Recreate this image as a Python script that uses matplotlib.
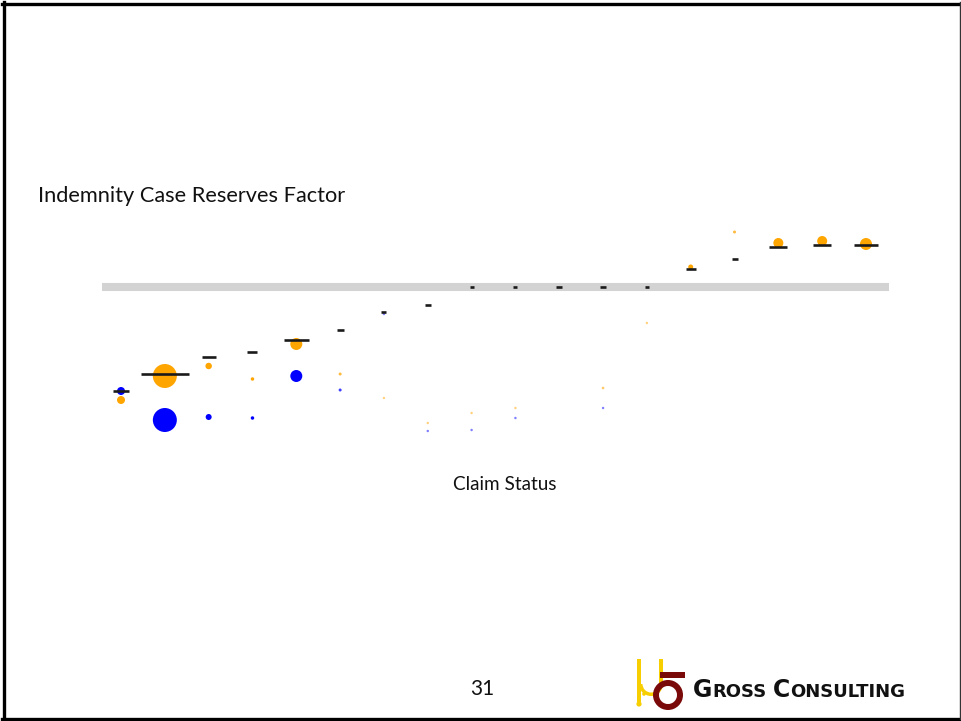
import numpy as np
import matplotlib
matplotlib.use("Agg")
import matplotlib.pyplot as plt
from matplotlib.lines import Line2D
from matplotlib.patches import Rectangle, Circle, Wedge

# ---- data -------------------------------------------------------------
categories = list(range(1, 19))

# fitted factor (black reference dash) per claim status
fitted_factor = [0.584, 0.652, 0.720, 0.740, 0.788, 0.828, 0.900, 0.928,
                 1.000, 1.000, 1.000, 1.000, 1.000, 1.072, 1.112, 1.160,
                 1.168, 1.168]
# total exposure behind each fitted factor (sets dash length)
total_weight = [16, 48, 14, 10, 25, 7, 5, 6, 4, 4, 6, 6, 4, 10, 6, 18, 18, 24]

# observed factors, orange series
orange_factor = [0.548, 0.644, 0.684, 0.632, 0.772, 0.652, 0.556, 0.456,
                 0.496, 0.516, np.nan, 0.596, 0.856, 1.080, 1.220, 1.176,
                 1.184, 1.172]
orange_weight = [64, 576, 42, 12, 144, 9, 6, 6, 6, 6, 0, 7, 6, 25, 9, 100,
                 100, 144]

# observed factors, blue series
blue_factor = [0.584, 0.468, 0.480, 0.476, 0.644, 0.588, 0.892, 0.424,
               0.428, 0.476, np.nan, 0.516, np.nan, np.nan, np.nan, np.nan,
               np.nan, np.nan]
blue_weight = [64, 576, 36, 12, 144, 9, 6, 6, 6, 6, 0, 6, 0, 0, 0, 0, 0, 0]

base_level = 1.0

# ---- figure -------------------------------------------------------------
W, H, DPI = 961, 721, 100
fig = plt.figure(figsize=(W / DPI, H / DPI), dpi=DPI)
fig.patch.set_facecolor("white")

def fx(px):
    return px / W

def fy(py):
    return 1 - py / H

ax = fig.add_axes([fx(102), fy(460), fx(889) - fx(102), fy(200) - fy(460)])
ax.set_xlim(0.566, 18.525)
ax.set_ylim(0.308, 1.348)
ax.axis("off")

# base line at factor 1.0
ax.axhline(base_level, color="#d3d3d3", lw=5.8, zorder=1)

x = np.array(categories, dtype=float)
px2pt = 72 / DPI


def bubbles(values, weights, rgb):
    w = np.array(weights, dtype=float)
    alpha = np.clip(w / 12.0, 0.35, 1.0)
    colors = [(*rgb, a) for a in alpha]
    ax.scatter(x, values, s=w * px2pt ** 2, c=colors, edgecolors="none",
               zorder=2)


bubbles(orange_factor, orange_weight, (1.0, 0.647, 0.0))
bubbles(blue_factor, blue_weight, (0.0, 0.0, 1.0))

# fitted factors as horizontal dashes, length scaled by weight
px_per_unit = (889 - 102) / (18.525 - 0.566)
half = np.array(total_weight, dtype=float) / 2 / px_per_unit
ax.hlines(fitted_factor, x - half, x + half, color="#1a1a1a", lw=1.9,
          zorder=3)

# ---- text -------------------------------------------------------------
fig.text(fx(38), fy(196), "Indemnity Case Reserves Factor", fontsize=15.7,
         family="Lato", ha="left", va="center", color="#111111")
fig.text(fx(505), fy(485), "Claim Status", fontsize=13.6, family="Lato",
         ha="center", va="center", color="#111111")
fig.text(fx(482), fy(689), "31", fontsize=15, family="Lato",
         ha="center", va="center", color="#111111")

# ---- company mark -----------------------------------------------------
mark = fig.add_axes([fx(630), fy(712), fx(60), fy(0) - fy(60)])
mark.set_xlim(0, 60)
mark.set_ylim(60, 0)
mark.axis("off")
gold = "#f7cf00"
maroon = "#7a0a0a"
mark.add_patch(Rectangle((7, 7), 4, 43, color=gold, lw=0))
mark.add_patch(Circle((9, 52), 2.6, color=gold, lw=0))
mark.add_patch(Rectangle((29, 7), 4, 26, color=gold, lw=0))
mark.add_patch(Wedge((21, 32), 12, 0, 180, width=3.5, color=gold, lw=0))
mark.add_patch(Circle((14, 42), 1.8, color=gold, lw=0))
mark.add_patch(Rectangle((30, 20), 25, 6, color=maroon, lw=0))
mark.add_patch(Wedge((38, 43), 15, 0, 360, width=6, color=maroon, lw=0))

fig.canvas.draw()
renderer = fig.canvas.get_renderer()
cursor = 693
for piece, size in [("G", 17), ("ROSS", 13), (" ", 13), ("C", 17),
                    ("ONSULTING", 13)]:
    t = fig.text(fx(cursor), fy(697), piece, fontsize=size,
                 family="DejaVu Sans", weight="bold", ha="left",
                 va="baseline", color="#111111")
    bb = t.get_window_extent(renderer)
    cursor += bb.width

# ---- slide frame ------------------------------------------------------
for (x0, y0, x1, y1, lw, c) in [
        (4, 2, 4, 719, 2.4, "black"),
        (2, 4, 960, 4, 2.4, "black"),
        (2, 718.5, 960, 718.5, 2.4, "black"),
        (959.5, 2, 959.5, 719, 1.0, "#333333")]:
    fig.add_artist(Line2D([fx(x0), fx(x1)], [fy(y0), fy(y1)], lw=lw,
                          color=c, transform=fig.transFigure))

fig.savefig("out.png", dpi=DPI)
